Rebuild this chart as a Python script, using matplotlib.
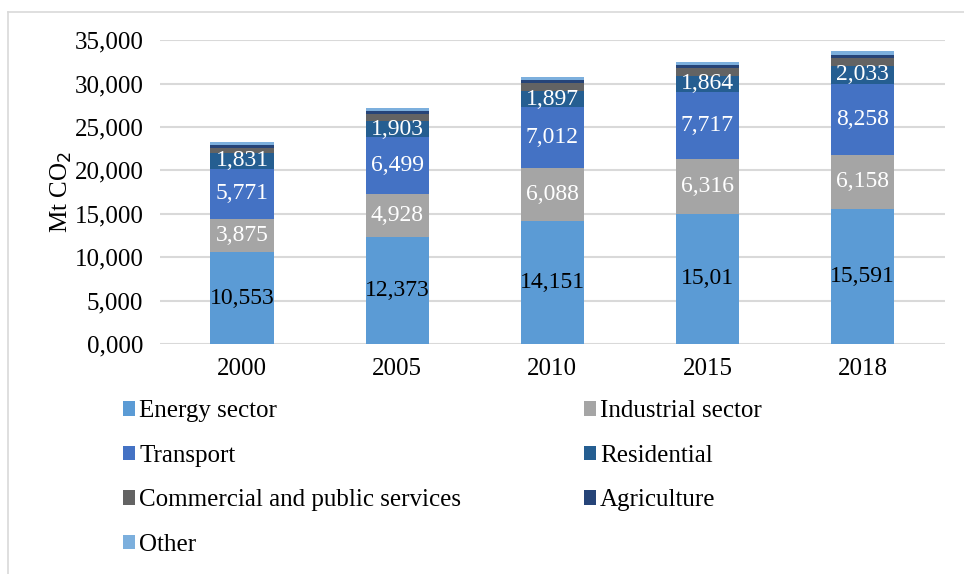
import numpy as np
import matplotlib.pyplot as plt
from matplotlib.lines import Line2D

# data (Mt CO2)
years = ["2000", "2005", "2010", "2015", "2018"]
energy = [10553, 12373, 14151, 15010, 15591]
industrial = [3875, 4928, 6088, 6316, 6158]
transport = [5771, 6499, 7012, 7717, 8258]
residential = [1831, 1903, 1897, 1864, 2033]
commercial = [600, 800, 900, 850, 880]
agriculture = [320, 380, 400, 400, 420]
other = [300, 350, 330, 330, 360]

energy_labels = ["10,553", "12,373", "14,151", "15,01", "15,591"]
industrial_labels = ["3,875", "4,928", "6,088", "6,316", "6,158"]
transport_labels = ["5,771", "6,499", "7,012", "7,717", "8,258"]
residential_labels = ["1,831", "1,903", "1,897", "1,864", "2,033"]

series = [
    ("Energy sector", energy, "#5B9BD5", energy_labels, "black"),
    ("Industrial sector", industrial, "#A5A5A5", industrial_labels, "white"),
    ("Transport", transport, "#4472C4", transport_labels, "white"),
    ("Residential", residential, "#255E91", residential_labels, "white"),
    ("Commercial and public services", commercial, "#636363", None, None),
    ("Agriculture", agriculture, "#264478", None, None),
    ("Other", other, "#7CAFDD", None, None),
]

plt.rcParams['font.family'] = ['Liberation Serif', 'DejaVu Serif']

fig = plt.figure(figsize=(9.64, 5.74), dpi=100)
# light frame lines (top and left only)
fig.lines.append(Line2D([8/964, 8/964], [0, 1 - 12/574], transform=fig.transFigure,
                        color="#D9D9D9", lw=1.2))
fig.lines.append(Line2D([8/964, 1], [1 - 12/574, 1 - 12/574], transform=fig.transFigure,
                        color="#D9D9D9", lw=1.2))
ax = fig.add_axes([0.166, 0.4007, 0.814, 0.5293])

x = np.arange(len(years))
bottom = np.zeros(len(years))
handles = []
for name, vals, color, labels, tcolor in series:
    vals = np.array(vals, dtype=float)
    bars = ax.bar(x, vals, width=0.41, bottom=bottom, color=color, label=name, zorder=3)
    handles.append(bars)
    if labels is not None:
        for xi, b, v, lab in zip(x, bottom, vals, labels):
            ax.text(xi, b + v / 2, lab, ha="center", va="center", color=tcolor, fontsize=17, zorder=4)
    bottom += vals

ax.set_ylim(0, 35000)
ax.set_xlim(-0.53, 4.53)
ax.set_yticks(np.arange(0, 35001, 5000))
ax.set_yticklabels([f"{int(v/1000)},000" for v in np.arange(0, 35001, 5000)])
ax.set_xticks(x)
ax.set_xticklabels(years)
ax.tick_params(length=0, labelsize=18, pad=12)
ax.tick_params(axis="x", pad=10)
ax.grid(axis="y", color="#D9D9D9", lw=1.5, zorder=0)
for s in ax.spines.values():
    s.set_visible(False)
ax.set_ylabel("Mt CO$_2$", fontsize=18, labelpad=0)

# legend: row-wise order Energy/Industrial, Transport/Residential, ...
order = [0, 2, 4, 6, 1, 3, 5]
fig.legend([handles[i] for i in order], [series[i][0] for i in order],
           loc="upper left", bbox_to_anchor=(0.117, 0.32), ncol=2, frameon=False,
           fontsize=18, handlelength=0.5, handleheight=0.5, handletextpad=0.15,
           columnspacing=4.9, labelspacing=0.9, borderaxespad=0)

fig.savefig("out.png", dpi=100)
